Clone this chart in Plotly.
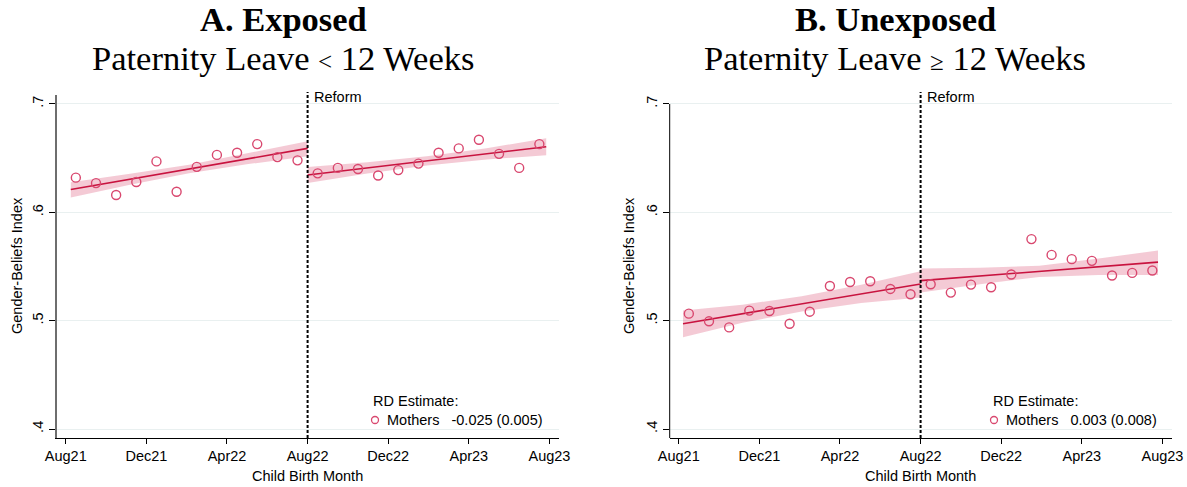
import plotly.graph_objects as go

W, H = 1187, 487

# Month index 0 = Aug 2021; binned means sit at the middle of each month
tick_months = [0, 4, 8, 12, 16, 20, 24]
tick_labels = ["Aug21", "Dec21", "Apr22", "Aug22", "Dec22", "Apr23", "Aug23"]
y_ticks = [0.4, 0.5, 0.6, 0.7]
y_tick_labels = [".4", ".5", ".6", ".7"]
reform_month = 12

bin_x = [m + 0.5 for m in range(24)]

# Panel A: exposed (paternity leave < 12 weeks)
exposed_means = [0.632, 0.627, 0.616, 0.628, 0.647, 0.619, 0.642, 0.653, 0.655, 0.663, 0.651, 0.648,
                 0.636, 0.641, 0.640, 0.634, 0.639, 0.645, 0.655, 0.659, 0.667, 0.654, 0.641, 0.663]
exp_pre_x = [0.25, 3.19, 6.12, 9.06, 12.0]
exp_pre_fit = [0.621, 0.6305, 0.640, 0.6495, 0.659]
exp_pre_lo = [0.6138, 0.6255, 0.6360, 0.6445, 0.6517]
exp_pre_hi = [0.6277, 0.6355, 0.6440, 0.6545, 0.6655]
exp_post_x = [12.0, 14.96, 17.92, 20.88, 23.84]
exp_post_fit = [0.6345, 0.6410, 0.6475, 0.6540, 0.6606]
exp_post_lo = [0.6271, 0.6358, 0.6433, 0.6488, 0.6526]
exp_post_hi = [0.6419, 0.6462, 0.6517, 0.6592, 0.6683]

# Panel B: unexposed (paternity leave >= 12 weeks)
unexposed_means = [0.5065, 0.4994, 0.4938, 0.5093, 0.5089, 0.4972, 0.5083, 0.5320, 0.5357, 0.5364, 0.5293, 0.5244,
                   0.5336, 0.5259, 0.5333, 0.5308, 0.5426, 0.5753, 0.5607, 0.5568, 0.5552, 0.5417, 0.5441, 0.5463]
unexp_pre_x = [0.21, 3.16, 6.10, 9.05, 12.0]
unexp_pre_fit = [0.4972, 0.5064, 0.5155, 0.5247, 0.5339]
unexp_pre_lo = [0.4848, 0.4980, 0.5085, 0.5163, 0.5213]
unexp_pre_hi = [0.5095, 0.5148, 0.5225, 0.5331, 0.5456]
unexp_post_x = [12.0, 14.95, 17.89, 20.84, 23.78]
unexp_post_fit = [0.5370, 0.5413, 0.5455, 0.5498, 0.5540]
unexp_post_lo = [0.5259, 0.5337, 0.5403, 0.5422, 0.5422]
unexp_post_hi = [0.5481, 0.5489, 0.5507, 0.5574, 0.5648]

panel_titles = ["A. Exposed", "B. Unexposed"]
panel_subtitles = ["Paternity Leave <span style='font-size:25px'>&lt;</span> 12 Weeks",
                   "Paternity Leave <span style='font-size:25px'>\u2265</span> 12 Weeks"]
rd_labels = ["Mothers\u00a0\u00a0\u00a0-0.025 (0.005)", "Mothers\u00a0\u00a0\u00a00.003 (0.008)"]

LINE = "#c8133f"
MARK = "#d9486f"
BAND = "rgba(214,60,100,0.27)"
GRID = "#e9f0f0"
SANS = "Liberation Sans, Arial, sans-serif"
SERIF = "Liberation Serif, Times New Roman, serif"

def px(x):
    return x / W

def py(y):
    return 1 - y / H

x_range = [-0.45, 24.45]
y_range = [0.3917, 0.7083]
x_domains = [[px(56.7), px(558.5)], [px(669.7), px(1171.5)]]
y_domain = [py(438), py(95)]

fig = go.Figure()

panels = [
    (exposed_means, [(exp_pre_x, exp_pre_fit, exp_pre_lo, exp_pre_hi),
                     (exp_post_x, exp_post_fit, exp_post_lo, exp_post_hi)]),
    (unexposed_means, [(unexp_pre_x, unexp_pre_fit, unexp_pre_lo, unexp_pre_hi),
                       (unexp_post_x, unexp_post_fit, unexp_post_lo, unexp_post_hi)]),
]

for i, (means, fits) in enumerate(panels):
    xa = "x" if i == 0 else "x2"
    ya = "y" if i == 0 else "y2"
    for fx, fy, lo, hi in fits:
        fig.add_trace(go.Scatter(x=fx + fx[::-1], y=hi + lo[::-1], fill="toself",
                                 fillcolor=BAND, line=dict(width=0), mode="lines",
                                 hoverinfo="skip", showlegend=False, xaxis=xa, yaxis=ya))
        fig.add_trace(go.Scatter(x=fx, y=fy, mode="lines", line=dict(color=LINE, width=1.6),
                                 showlegend=False, xaxis=xa, yaxis=ya))
    fig.add_trace(go.Scatter(x=bin_x, y=means, mode="markers",
                             marker=dict(symbol="circle-open", size=9, color=MARK,
                                         line=dict(width=1.4, color=MARK)),
                             showlegend=False, xaxis=xa, yaxis=ya))

axis_common_x = dict(range=x_range, tickmode="array", tickvals=tick_months, ticktext=tick_labels,
                     showgrid=False, zeroline=False, showline=True, linecolor="black", linewidth=1,
                     ticks="outside", ticklen=5, tickcolor="black", automargin=False,
                     tickfont=dict(family=SANS, size=14.5, color="black"))
axis_common_y = dict(range=y_range, domain=y_domain, tickmode="array", tickvals=y_ticks,
                     ticktext=y_tick_labels, tickangle=-90, showgrid=True, gridcolor=GRID,
                     gridwidth=1, zeroline=False, linewidth=1,
                     ticks="outside", ticklen=6, tickcolor="black", automargin=False,
                     tickfont=dict(family=SANS, size=14.5, color="black"))

fig.update_layout(
    xaxis=dict(axis_common_x, domain=x_domains[0], anchor="y"),
    yaxis=dict(axis_common_y, anchor="x", showline=True, linecolor="#6e6e6e", linewidth=1.6),
    xaxis2=dict(axis_common_x, domain=x_domains[1], anchor="y2"),
    yaxis2=dict(axis_common_y, anchor="x2", showline=False),
    width=W, height=H, margin=dict(l=0, r=0, t=0, b=0),
    plot_bgcolor="white", paper_bgcolor="white", showlegend=False,
)

annotations = []
shapes = [
    # panel B's vertical axis line stops at the top tick
    dict(type="line", xref="x2 domain", yref="y2", x0=0, x1=0, y0=y_range[0], y1=y_ticks[-1],
         line=dict(color="black", width=1)),
]
title_cx = [283, 895]
plot_cx = [307.6, 920.6]
ytitle_x = [17, 629]
legend_x = [371, 991]
circle_x = [375, 994]
text_x = [385, 1004]
TXT = 14.5
for i in range(2):
    xr = "x" if i == 0 else "x2"
    annotations += [
        dict(text="<b>" + panel_titles[i] + "</b>", x=px(title_cx[i]), y=py(19), xref="paper", yref="paper",
             xanchor="center", yanchor="middle", showarrow=False, font=dict(family=SERIF, size=34.5, color="black")),
        dict(text=panel_subtitles[i], x=px(title_cx[i]), y=py(58), xref="paper", yref="paper",
             xanchor="center", yanchor="middle", showarrow=False, font=dict(family=SERIF, size=34.5, color="black")),
        dict(text="Child Birth Month", x=px(plot_cx[i]), y=py(476), xref="paper", yref="paper",
             xanchor="center", yanchor="middle", showarrow=False, font=dict(family=SANS, size=TXT, color="black")),
        dict(text="Gender-Beliefs Index", x=px(ytitle_x[i]), y=py(266), xref="paper", yref="paper",
             xanchor="center", yanchor="middle", textangle=-90, showarrow=False,
             font=dict(family=SANS, size=TXT, color="black")),
        dict(text="Reform", x=reform_month, xref=xr, xshift=4, y=py(97), yref="paper",
             xanchor="left", yanchor="middle", showarrow=False, font=dict(family=SANS, size=TXT, color="black")),
        dict(text="RD Estimate:", x=px(legend_x[i]), y=py(401), xref="paper", yref="paper",
             xanchor="left", yanchor="middle", showarrow=False, font=dict(family=SANS, size=TXT, color="black")),
        dict(text=rd_labels[i], x=px(text_x[i]), y=py(420), xref="paper", yref="paper",
             xanchor="left", yanchor="middle", showarrow=False, font=dict(family=SANS, size=TXT, color="black")),
    ]
    shapes += [
        dict(type="line", xref=xr, yref="paper", x0=reform_month, x1=reform_month,
             y0=py(438), y1=py(92), line=dict(color="black", width=2, dash="3px,2px")),
        dict(type="circle", xref="paper", yref="paper", xsizemode="pixel", ysizemode="pixel",
             xanchor=px(circle_x[i]), yanchor=py(420), x0=-3.5, x1=3.5, y0=-3.5, y1=3.5,
             line=dict(color=MARK, width=1.3)),
    ]

fig.update_layout(annotations=annotations, shapes=shapes)
fig.write_html("out.html")
